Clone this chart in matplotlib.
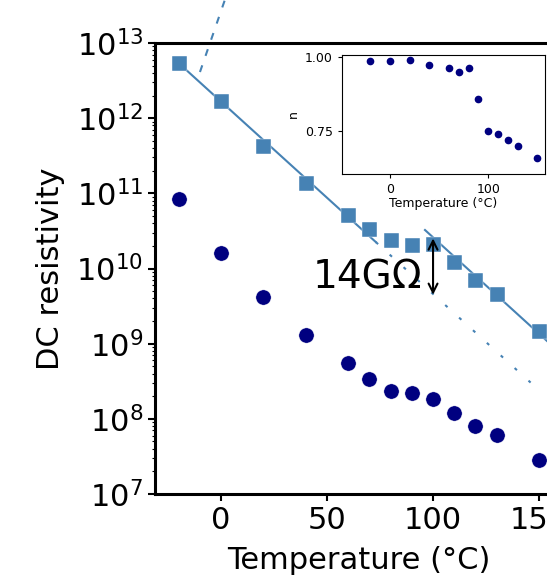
import numpy as np
import matplotlib
matplotlib.use("Agg")
import matplotlib.pyplot as plt

# measured temperatures (°C)
temps = [-20, 0, 20, 40, 60, 70, 80, 90, 100, 110, 120, 130, 150]

# DC resistivity, two samples (log10 values)
log_rho_upper = [12.734, 12.228, 11.630, 11.138, 10.712, 10.526, 10.379,
                 10.313, 10.326, 10.087, 9.847, 9.661, 9.169]
log_rho_lower = [10.921, 10.210, 9.617, 9.120, 8.747, 8.530, 8.370,
                 8.340, 8.268, 8.078, 7.909, 7.785, 7.453]

# exponent n vs temperature (inset)
n_values = [0.986, 0.988, 0.990, 0.974, 0.962, 0.949, 0.964,
            0.857, 0.748, 0.738, 0.718, 0.698, 0.656]

# straight fits in log space: (T_start, log_start, slope per °C)
fit_low = (-20, 12.734, -0.02561)
fit_high = (96.2, 10.512, -0.02566)
# steep extrapolated branch near the top
branch_T = [-9.9, 4.0]
branch_log = [12.614, 13.75]

blue = "#4682b4"
navy = "#000080"

fig = plt.figure(figsize=(5.47, 5.76), dpi=100)
ax = fig.add_axes([155 / 547, 82 / 576, 407 / 547, 451 / 576])

ax.semilogy(temps, 10 ** np.array(log_rho_upper), "s", color=blue,
            markersize=10.8, markeredgecolor="white", markeredgewidth=0.3,
            zorder=3)
ax.semilogy(temps, 10 ** np.array(log_rho_lower), "o", color=navy,
            markersize=11, markeredgecolor="white", markeredgewidth=0.3,
            zorder=3)


def fit_line(fit, t):
    t0, l0, s = fit
    return 10 ** (l0 + s * (np.asarray(t) - t0))


t_solid = np.linspace(-20, 73, 50)
t_dot = np.linspace(73, 146, 50)
ax.plot(t_solid, fit_line(fit_low, t_solid), color=blue, lw=1.5)
ax.plot(t_dot, fit_line(fit_low, t_dot), color=blue, lw=1.5,
        dashes=(1.5, 7.5))

t_high = np.linspace(96.2, 170, 50)
ax.plot(t_high, fit_line(fit_high, t_high), color=blue, lw=1.5)

ax.plot(branch_T, 10 ** np.array(branch_log), color=blue, lw=1.5,
        dashes=(3.4, 4.8), clip_on=False)

# gap between the two fits at 100 °C
ax.annotate("", xy=(100, 10 ** 9.65), xytext=(100, 10 ** 10.40),
            arrowprops=dict(arrowstyle="<->", color="black", lw=1.5,
                            mutation_scale=16, shrinkA=0, shrinkB=0))
ax.text(43.4, 10 ** 9.74, "14G\u03a9", fontsize=28, ha="left",
        va="baseline")

ax.set_xlim(-31.1, 160.8)
ax.set_ylim(1e7, 1e13)
ax.set_xticks([0, 50, 100, 150])
ax.set_xlabel("Temperature (\u00b0C)", fontsize=22, labelpad=8)
ax.set_ylabel("DC resistivity", fontsize=22)
ax.yaxis.set_label_coords(-0.22, 0.5)
ax.tick_params(which="major", labelsize=22, length=5, width=1.5)
ax.tick_params(which="minor", length=2.5, width=0.8)
for sp in ax.spines.values():
    sp.set_linewidth(2.2)

# inset: exponent n
axin = fig.add_axes([342 / 547, 402 / 576, 203 / 547, 119 / 576])
axin.plot(temps, n_values, "o", color=navy, markersize=4.5)
axin.set_xlim(-49, 158)
axin.set_ylim(0.6025, 1.008)
axin.set_xticks([0, 100])
axin.set_yticks([0.75, 1.00])
axin.set_yticklabels(["0.75", "1.00"])
axin.set_xlabel("Temperature (\u00b0C)", fontsize=9, labelpad=1)
axin.set_ylabel("n", fontsize=9)
axin.tick_params(labelsize=9, length=3, width=0.8)

fig.savefig("out.png", dpi=100)
